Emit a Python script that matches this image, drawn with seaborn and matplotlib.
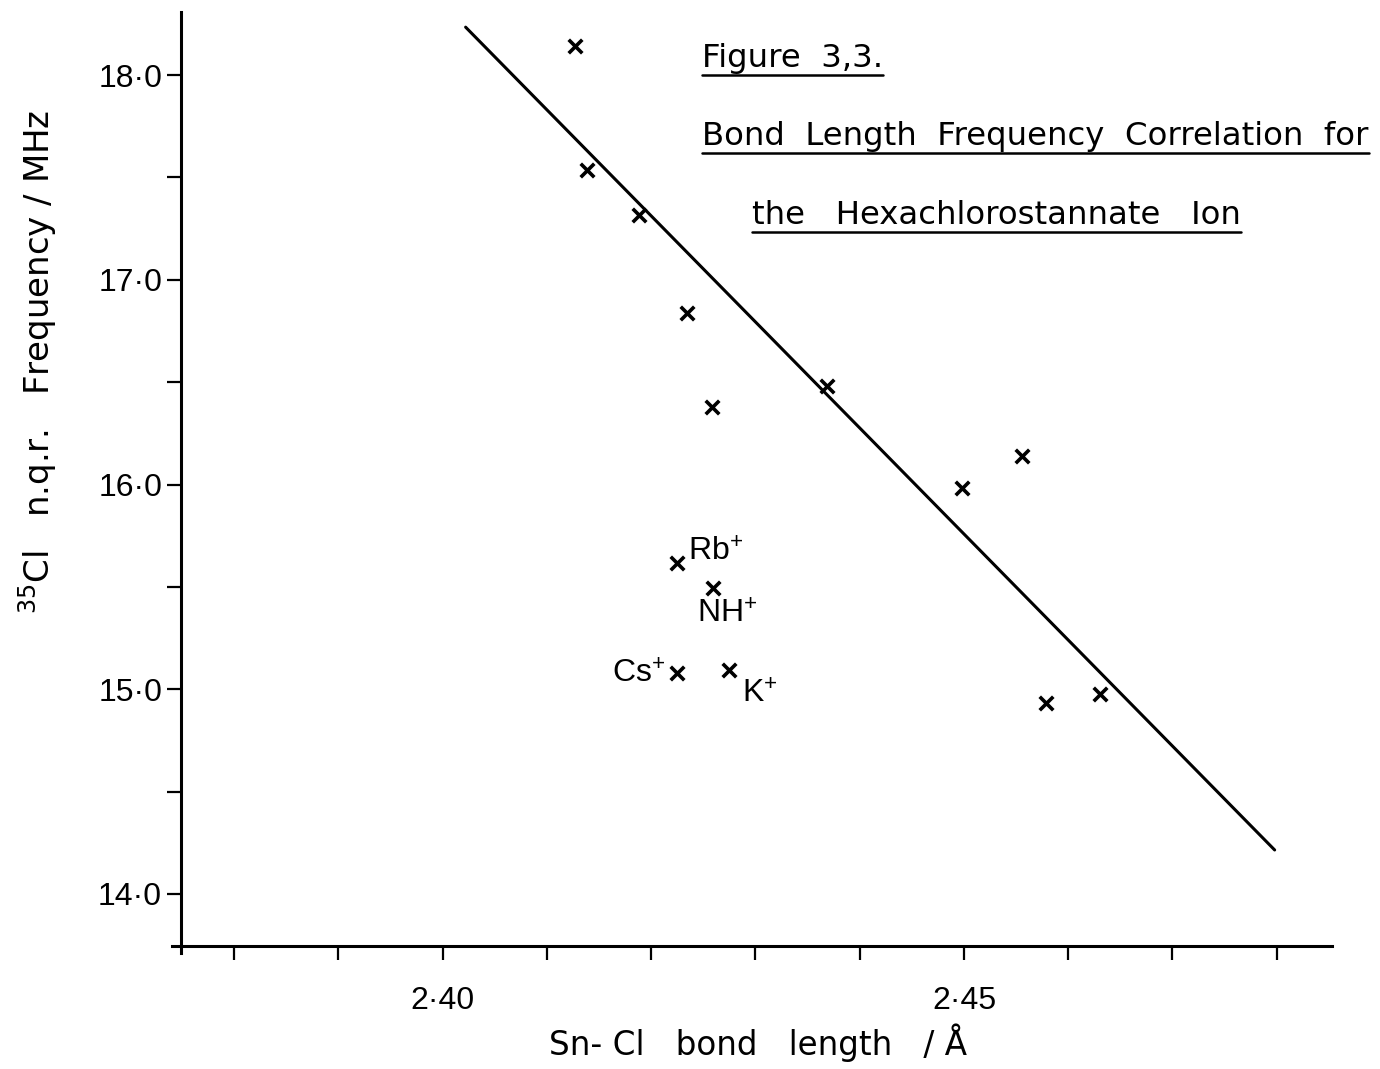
import numpy as np
import pandas as pd
import seaborn as sns
import matplotlib
matplotlib.use("Agg")
import matplotlib.pyplot as plt
from matplotlib.lines import Line2D
from matplotlib.ticker import FixedLocator, FixedFormatter

# ---------------- data ----------------
bond_length = [2.4127, 2.4138, 2.4188, 2.4234, 2.4258, 2.4369, 2.4498, 2.4556, 2.4579, 2.4630]
frequency = [18.142, 17.536, 17.316, 16.838, 16.379, 16.481, 15.983, 16.139, 14.933, 14.977]

cation_labels = ["Rb$^{+}$", "NH$^{+}$", "Cs$^{+}$", "K$^{+}$"]
cation_bond_length = [2.4225, 2.4259, 2.4225, 2.4275]
cation_frequency = [15.617, 15.494, 15.079, 15.094]

line_x = [2.4022, 2.4798]
line_y = [18.234, 14.215]

x_major = [2.40, 2.45]
x_major_labels = ["2·40", "2·45"]
x_minor = [2.38, 2.39, 2.41, 2.42, 2.43, 2.44, 2.46, 2.47, 2.48]
y_major = [14.0, 15.0, 16.0, 17.0, 18.0]
y_major_labels = ["14·0", "15·0", "16·0", "17·0", "18·0"]
y_minor = [14.5, 15.5, 16.5, 17.5]

title_lines = ["Figure  3,3.", "Bond  Length  Frequency  Correlation  for", "the   Hexachlorostannate   Ion"]

# ---------------- style ----------------
sns.set_theme(style="ticks")
plt.rcParams["font.family"] = ["Liberation Sans", "DejaVu Sans"]
plt.rcParams["mathtext.fontset"] = "custom"
plt.rcParams["mathtext.rm"] = "Liberation Sans"
plt.rcParams["mathtext.it"] = "Liberation Sans"
plt.rcParams["mathtext.default"] = "regular"

LABEL_FONT = ["DejaVu Sans"]

W, H = 1380, 1069
fig = plt.figure(figsize=(W / 100, H / 100), dpi=100)
fig.patch.set_facecolor("white")
ax = fig.add_axes([181 / W, 1 - 946 / H, (1332 - 181) / W, (946 - 12) / H])
ax.set_facecolor("white")

sns.lineplot(x=line_x, y=line_y, ax=ax, color="black", linewidth=2.2)
sns.scatterplot(x=bond_length, y=frequency, ax=ax, marker="x", s=95,
                color="black", linewidth=2.6)
sns.scatterplot(x=cation_bond_length, y=cation_frequency, ax=ax, marker="x", s=95,
                color="black", linewidth=2.6)

label_offsets = [(8, 2), (-11.5, -25), (-8.6, -6.5), (9.4, -23.5)]
label_ha = ["left", "left", "right", "left"]
for lab, xv, yv, off, ha in zip(cation_labels, cation_bond_length, cation_frequency,
                                label_offsets, label_ha):
    ax.annotate(lab, (xv, yv), xytext=off, textcoords="offset points",
                ha=ha, va="baseline", fontsize=23, color="black")

ax.set_xlim(2.3749, 2.4853)
ax.set_ylim(13.746, 18.308)

ax.xaxis.set_major_locator(FixedLocator(x_major))
ax.xaxis.set_major_formatter(FixedFormatter(x_major_labels))
ax.xaxis.set_minor_locator(FixedLocator(x_minor))
ax.yaxis.set_major_locator(FixedLocator(y_major))
ax.yaxis.set_major_formatter(FixedFormatter(y_major_labels))
ax.yaxis.set_minor_locator(FixedLocator(y_minor))

ax.tick_params(axis="both", which="both", direction="out", length=10, width=1.6,
               color="black", labelcolor="black", labelsize=23)
ax.tick_params(axis="x", which="both", pad=19)
ax.tick_params(axis="y", which="both", pad=3.6)

sns.despine(ax=ax)
for side in ["left", "bottom"]:
    ax.spines[side].set_linewidth(2.2)
    ax.spines[side].set_color("black")
ax.spines["left"].set_bounds(13.712, 18.308)
ax.spines["bottom"].set_bounds(2.374, 2.4853)
ax.set_xlabel("")
ax.set_ylabel("")

# axis labels
fig.text(758 / W, 1 - 1055 / H, "Sn- Cl   bond   length   / Å", ha="center",
         va="baseline", fontsize=23.5, color="black", family=LABEL_FONT)
fig.text(38 / W, 1 - 362 / H, "$^{35}$Cl   n.q.r.   Frequency / MHz", rotation=90,
         ha="center", va="center", fontsize=24.5, color="black", family=LABEL_FONT)

# title block with underlines
title_pos = [(702, 67), (702, 145), (752, 224)]
texts = []
for txt, (px, py) in zip(title_lines, title_pos):
    t = fig.text(px / W, 1 - py / H, txt, ha="left", va="baseline", fontsize=23.3,
                 color="black", family=LABEL_FONT)
    texts.append((t, py))

fig.canvas.draw()
r = fig.canvas.get_renderer()
for t, py in texts:
    bb = t.get_window_extent(r)
    yline = 1 - (py + 8) / H
    fig.add_artist(Line2D([bb.x0 / W, bb.x1 / W], [yline, yline],
                          transform=fig.transFigure, color="black", linewidth=1.8))

fig.savefig("out.png", dpi=100, facecolor="white")
